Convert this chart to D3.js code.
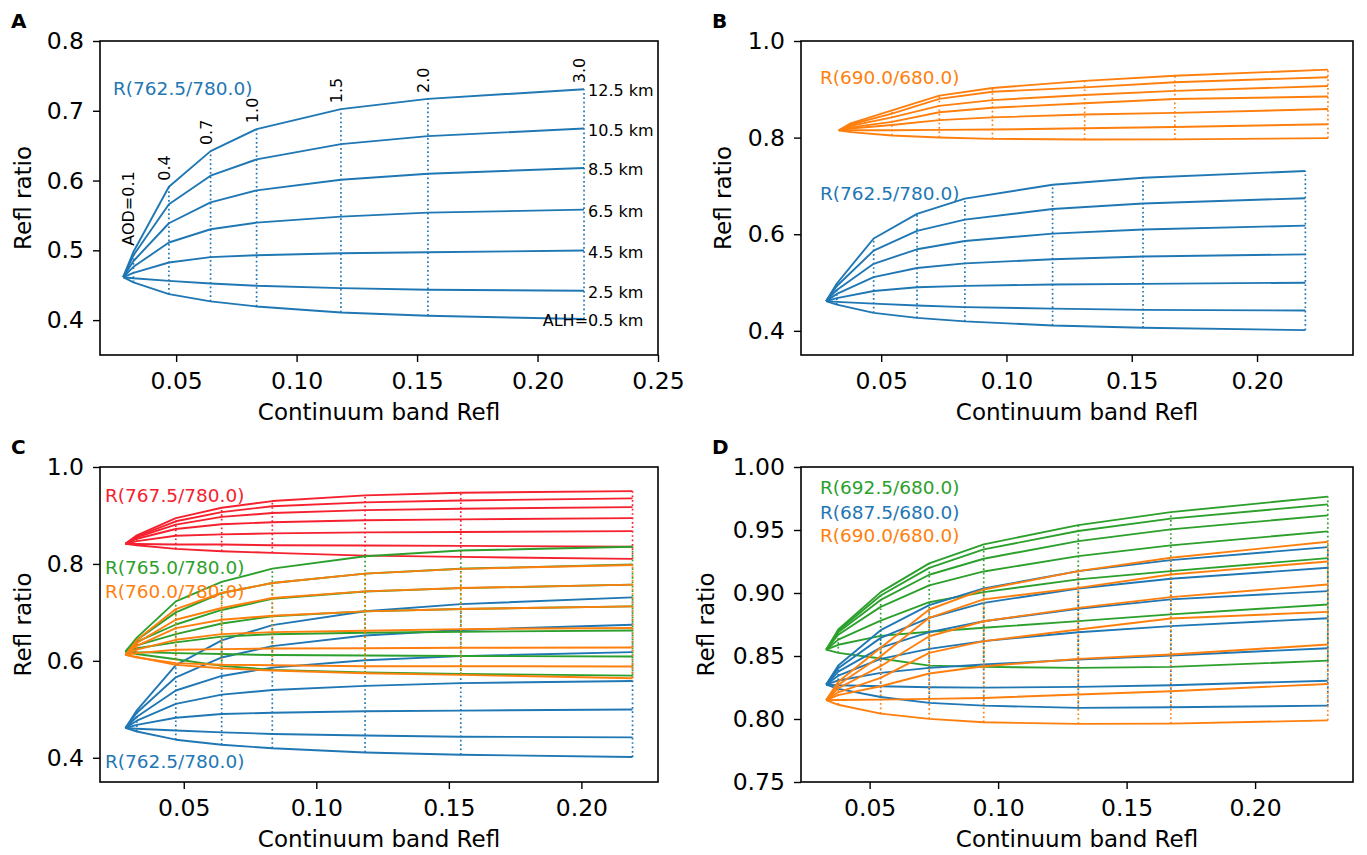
<!DOCTYPE html>
<html>
<head>
<meta charset="utf-8">
<script src="https://cdn.jsdelivr.net/npm/d3@7"></script>
<style>
  body { margin: 0; background: #fff; }
  text { font-family: "DejaVu Sans", sans-serif; }
</style>
</head>
<body>
<svg id="chart" width="1367" height="855"></svg>
<script>
'use strict';

// AOD steps along every curve (first point = no aerosol, all heights meet there)
var aodLabels = ['AOD=0.1', '0.4', '0.7', '1.0', '1.5', '2.0', '3.0'];
var alhLabels = ['ALH=0.5 km', '2.5 km', '4.5 km', '6.5 km', '8.5 km', '10.5 km', '12.5 km'];

// continuum band reflectance at each AOD step
var x780 = [0.0280, 0.0323, 0.0470, 0.0643, 0.0834, 0.1184, 0.1545, 0.2193];
var x680 = [0.0331, 0.0378, 0.0543, 0.0732, 0.0944, 0.1312, 0.1672, 0.2283];

// ratio curves, one row per ALH (0.5, 2.5 ... 12.5 km)
var r7625_780 = [
    [0.4615, 0.4542, 0.4373, 0.4268, 0.4196, 0.4110, 0.4063, 0.4015],
    [0.4615, 0.4600, 0.4563, 0.4525, 0.4492, 0.4459, 0.4435, 0.4420],
    [0.4615, 0.4678, 0.4826, 0.4902, 0.4930, 0.4959, 0.4973, 0.4997],
    [0.4615, 0.4764, 0.5112, 0.5302, 0.5397, 0.5483, 0.5540, 0.5583],
    [0.4615, 0.4847, 0.5388, 0.5688, 0.5860, 0.6012, 0.6098, 0.6179],
    [0.4615, 0.4929, 0.5660, 0.6070, 0.6303, 0.6522, 0.6637, 0.6746],
    [0.4615, 0.4980, 0.5912, 0.6422, 0.6737, 0.7023, 0.7170, 0.7309]
];
var r7675_780 = [
    [0.8414, 0.8385, 0.8310, 0.8262, 0.8228, 0.8172, 0.8145, 0.8105],
    [0.8414, 0.8410, 0.8400, 0.8400, 0.8386, 0.8379, 0.8372, 0.8353],
    [0.8414, 0.8470, 0.8580, 0.8610, 0.8630, 0.8650, 0.8660, 0.8676],
    [0.8414, 0.8520, 0.8720, 0.8820, 0.8860, 0.8900, 0.8920, 0.8945],
    [0.8414, 0.8550, 0.8810, 0.8970, 0.9050, 0.9110, 0.9140, 0.9172],
    [0.8414, 0.8570, 0.8880, 0.9070, 0.9190, 0.9270, 0.9310, 0.9352],
    [0.8414, 0.8590, 0.8945, 0.9159, 0.9297, 0.9414, 0.9469, 0.9503]
];
var r7650_780 = [
    [0.6193, 0.6140, 0.6034, 0.5897, 0.5814, 0.5759, 0.5731, 0.5696],
    [0.6193, 0.6180, 0.6159, 0.6140, 0.6120, 0.6110, 0.6100, 0.6089],
    [0.6193, 0.6260, 0.6380, 0.6500, 0.6550, 0.6580, 0.6600, 0.6627],
    [0.6193, 0.6320, 0.6550, 0.6770, 0.6920, 0.7020, 0.7070, 0.7124],
    [0.6193, 0.6390, 0.6750, 0.7050, 0.7280, 0.7430, 0.7500, 0.7573],
    [0.6193, 0.6430, 0.7000, 0.7400, 0.7607, 0.7800, 0.7900, 0.7987],
    [0.6193, 0.6480, 0.7228, 0.7628, 0.7903, 0.8159, 0.8276, 0.8353]
];
var r7600_780 = [
    [0.6124, 0.6080, 0.5917, 0.5848, 0.5800, 0.5745, 0.5710, 0.5642],
    [0.6124, 0.6070, 0.5952, 0.5920, 0.5910, 0.5890, 0.5890, 0.5882],
    [0.6124, 0.6160, 0.6228, 0.6241, 0.6255, 0.6260, 0.6270, 0.6276],
    [0.6124, 0.6230, 0.6434, 0.6552, 0.6593, 0.6621, 0.6655, 0.6677],
    [0.6124, 0.6310, 0.6676, 0.6848, 0.6931, 0.7021, 0.7069, 0.7124],
    [0.6124, 0.6370, 0.6848, 0.7090, 0.7297, 0.7434, 0.7503, 0.7573],
    [0.6124, 0.6430, 0.7069, 0.7400, 0.7607, 0.7800, 0.7897, 0.7979]
];
var r6900_680 = [
    [0.8150, 0.8113, 0.8043, 0.8001, 0.7974, 0.7961, 0.7963, 0.7989],
    [0.8150, 0.8151, 0.8154, 0.8160, 0.8167, 0.8194, 0.8220, 0.8278],
    [0.8150, 0.8189, 0.8260, 0.8361, 0.8419, 0.8477, 0.8512, 0.8591],
    [0.8150, 0.8212, 0.8326, 0.8525, 0.8618, 0.8710, 0.8798, 0.8850],
    [0.8150, 0.8244, 0.8419, 0.8657, 0.8776, 0.8882, 0.8967, 0.9068],
    [0.8150, 0.8272, 0.8498, 0.8803, 0.8949, 0.9041, 0.9147, 0.9250],
    [0.8150, 0.8295, 0.8565, 0.8869, 0.9028, 0.9174, 0.9280, 0.9407]
];
var r6875_680 = [
    [0.8273, 0.8239, 0.8175, 0.8128, 0.8106, 0.8088, 0.8093, 0.8106],
    [0.8273, 0.8268, 0.8260, 0.8252, 0.8249, 0.8255, 0.8268, 0.8304],
    [0.8273, 0.8306, 0.8366, 0.8406, 0.8432, 0.8472, 0.8504, 0.8562],
    [0.8273, 0.8344, 0.8477, 0.8557, 0.8618, 0.8689, 0.8737, 0.8800],
    [0.8273, 0.8376, 0.8567, 0.8689, 0.8776, 0.8874, 0.8949, 0.9015],
    [0.8273, 0.8403, 0.8644, 0.8803, 0.8922, 0.9036, 0.9113, 0.9200],
    [0.8273, 0.8424, 0.8705, 0.8904, 0.9036, 0.9174, 0.9261, 0.9364]
];
var r6925_680 = [
    [0.8550, 0.8525, 0.8480, 0.8424, 0.8414, 0.8406, 0.8414, 0.8463],
    [0.8550, 0.8589, 0.8660, 0.8692, 0.8724, 0.8777, 0.8830, 0.8909],
    [0.8550, 0.8630, 0.8780, 0.8927, 0.9007, 0.9108, 0.9174, 0.9277],
    [0.8550, 0.8669, 0.8890, 0.9060, 0.9171, 0.9293, 0.9378, 0.9489],
    [0.8550, 0.8688, 0.8945, 0.9145, 0.9272, 0.9412, 0.9505, 0.9616],
    [0.8550, 0.8700, 0.8980, 0.9200, 0.9346, 0.9492, 0.9590, 0.9703],
    [0.8550, 0.8710, 0.9007, 0.9235, 0.9386, 0.9539, 0.9642, 0.9765]
];

var BLUE = '#1f77b4', ORANGE = '#ff7f0e', GREEN = '#2ca02c', RED = '#f5212f';

var TICK_FONT = 23.5, LABEL_FONT = 23, NOTE_FONT = 18.5, SMALL_FONT = 16;

var svg = d3.select('#chart');

function drawPanel(p) {
    var g = svg.append('g')
        .attr('transform', 'translate(' + p.left + ',' + p.top + ')');

    var x = d3.scaleLinear().domain(p.xDomain).range([0, p.width]);
    var y = d3.scaleLinear().domain(p.yDomain).range([p.height, 0]);

    var line = d3.line()
        .x(function (d) { return x(d[0]) })
        .y(function (d) { return y(d[1]) });

    p.series.forEach(function (s) {
        s.lines.forEach(function (l) {
            g.append('path')
                .datum(d3.zip(s.x, l))
                .attr('fill', 'none')
                .attr('stroke', s.color)
                .attr('stroke-width', 1.9)
                .attr('stroke-linejoin', 'round')
                .attr('d', line);
        });
        // dotted line joining the curves at the same AOD
        s.x.forEach(function (xv, i) {
            if (i === 0) return;
            var col = s.lines.map(function (l) { return l[i] });
            g.append('line')
                .attr('x1', x(xv)).attr('x2', x(xv))
                .attr('y1', y(d3.min(col))).attr('y2', y(d3.max(col)))
                .attr('stroke', s.color)
                .attr('stroke-width', 1.7)
                .attr('stroke-dasharray', '1.7,2.7');
        });
    });

    var xAxis = g.append('g')
        .attr('transform', 'translate(0,' + p.height + ')')
        .call(d3.axisBottom(x).tickValues(p.xTicks).tickFormat(d3.format('.2f'))
            .tickSizeOuter(0).tickSize(7).tickPadding(10));
    var yAxis = g.append('g')
        .call(d3.axisLeft(y).tickValues(p.yTicks).tickFormat(d3.format(p.yFormat))
            .tickSizeOuter(0).tickSize(7).tickPadding(9));
    [xAxis, yAxis].forEach(function (a) {
        a.select('.domain').remove();
        a.selectAll('line').attr('stroke', '#000').attr('stroke-width', 1.4);
        a.selectAll('text').attr('font-size', TICK_FONT).attr('fill', '#000')
            .attr('font-family', '"DejaVu Sans", sans-serif');
    });

    g.append('rect')
        .attr('width', p.width).attr('height', p.height)
        .attr('fill', 'none').attr('stroke', '#000').attr('stroke-width', 1.6);

    g.append('text')
        .attr('x', p.width / 2).attr('y', p.height + 65)
        .attr('text-anchor', 'middle').attr('font-size', LABEL_FONT).attr('fill', '#000')
        .text('Continuum band Refl');

    g.append('text')
        .attr('transform', 'translate(' + p.ylabelX + ',' + (p.height / 2) + ') rotate(-90)')
        .attr('text-anchor', 'middle').attr('font-size', LABEL_FONT).attr('fill', '#000')
        .text('Refl ratio');

    g.append('text')
        .attr('x', p.letterX - p.left).attr('y', -13)
        .attr('font-size', 20).attr('font-weight', 'bold')
        .text(p.letter);

    p.notes.forEach(function (n) {
        g.append('text')
            .attr('x', n.px).attr('y', n.py)
            .attr('font-size', NOTE_FONT).attr('fill', n.color)
            .text(n.text);
    });

    return { g: g, x: x, y: y };
}

var panelA = drawPanel({
    letter: 'A', letterX: 11, left: 100, top: 41, width: 558, height: 314,
    xDomain: [0.0184, 0.25], yDomain: [0.35, 0.8],
    xTicks: [0.05, 0.10, 0.15, 0.20, 0.25], yTicks: [0.4, 0.5, 0.6, 0.7, 0.8], yFormat: '.1f',
    ylabelX: -69,
    series: [{ x: x780, lines: r7625_780, color: BLUE }],
    notes: [{ text: 'R(762.5/780.0)', px: 13, py: 54, color: BLUE }]
});

// AOD labels above the top curve, ALH labels at the right end
var topCurve = r7625_780[r7625_780.length - 1];
aodLabels.forEach(function (t, i) {
    var px = panelA.x(x780[i + 1]) + 1, py = panelA.y(topCurve[i + 1]) - 6;
    panelA.g.append('text')
        .attr('transform', 'translate(' + px + ',' + py + ') rotate(-90)')
        .attr('font-size', SMALL_FONT).attr('fill', '#000')
        .text(t);
});
var lastX = panelA.x(x780[x780.length - 1]) + 4;
var probe = panelA.g.append('text').attr('font-size', SMALL_FONT).text('0.5 km');
var kmWidth = probe.node().getComputedTextLength();
probe.remove();
alhLabels.forEach(function (t, i) {
    var row = r7625_780[i];
    panelA.g.append('text')
        .attr('x', i === 0 ? lastX + kmWidth : lastX)
        .attr('y', panelA.y(row[row.length - 1]) + 7)
        .attr('text-anchor', i === 0 ? 'end' : 'start')
        .attr('font-size', SMALL_FONT).attr('fill', '#000')
        .text(t);
});

drawPanel({
    letter: 'B', letterX: 712, left: 801, top: 41, width: 552, height: 314,
    xDomain: [0.0180, 0.2383], yDomain: [0.35, 1.0],
    xTicks: [0.05, 0.10, 0.15, 0.20], yTicks: [0.4, 0.6, 0.8, 1.0], yFormat: '.1f',
    ylabelX: -70,
    series: [
        { x: x680, lines: r6900_680, color: ORANGE },
        { x: x780, lines: r7625_780, color: BLUE }
    ],
    notes: [
        { text: 'R(690.0/680.0)', px: 19, py: 43, color: ORANGE },
        { text: 'R(762.5/780.0)', px: 19, py: 159, color: BLUE }
    ]
});

drawPanel({
    letter: 'C', letterX: 11, left: 100, top: 467, width: 558, height: 315,
    xDomain: [0.0184, 0.2289], yDomain: [0.35, 1.0],
    xTicks: [0.05, 0.10, 0.15, 0.20], yTicks: [0.4, 0.6, 0.8, 1.0], yFormat: '.1f',
    ylabelX: -69,
    series: [
        { x: x780, lines: r7625_780, color: BLUE },
        { x: x780, lines: r7675_780, color: RED },
        { x: x780, lines: r7650_780, color: GREEN },
        { x: x780, lines: r7600_780, color: ORANGE }
    ],
    notes: [
        { text: 'R(767.5/780.0)', px: 5, py: 35, color: RED },
        { text: 'R(765.0/780.0)', px: 5, py: 107, color: GREEN },
        { text: 'R(760.0/780.0)', px: 5, py: 131, color: ORANGE },
        { text: 'R(762.5/780.0)', px: 5, py: 301, color: BLUE }
    ]
});

drawPanel({
    letter: 'D', letterX: 712, left: 801, top: 467, width: 552, height: 315,
    xDomain: [0.0233, 0.2381], yDomain: [0.75, 1.0],
    xTicks: [0.05, 0.10, 0.15, 0.20], yTicks: [0.75, 0.80, 0.85, 0.90, 0.95, 1.00], yFormat: '.2f',
    ylabelX: -87,
    series: [
        { x: x680, lines: r6925_680, color: GREEN },
        { x: x680, lines: r6875_680, color: BLUE },
        { x: x680, lines: r6900_680, color: ORANGE }
    ],
    notes: [
        { text: 'R(692.5/680.0)', px: 19, py: 27, color: GREEN },
        { text: 'R(687.5/680.0)', px: 19, py: 52, color: BLUE },
        { text: 'R(690.0/680.0)', px: 19, py: 75, color: ORANGE }
    ]
});
</script>
</body>
</html>
